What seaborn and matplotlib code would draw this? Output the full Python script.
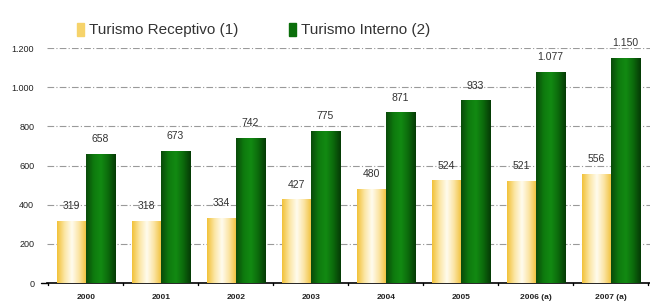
import matplotlib
matplotlib.use("Agg")
import matplotlib.pyplot as plt
import seaborn as sns
import pandas as pd
import numpy as np
from matplotlib.colors import LinearSegmentedColormap
from matplotlib.patches import Rectangle

years = ["2000", "2001", "2002", "2003", "2004", "2005", "2006 (a)", "2007 (a)"]
receptivo = [319, 318, 334, 427, 480, 524, 521, 556]
interno = [658, 673, 742, 775, 871, 933, 1077, 1150]
series_names = ["Turismo Receptivo (1)", "Turismo Interno (2)"]
yticks = [0, 200, 400, 600, 800, 1000, 1200]

df = pd.DataFrame({
    "Ano": years * 2,
    "Valor": receptivo + interno,
    "Serie": [series_names[0]] * len(years) + [series_names[1]] * len(years),
})

sns.set_theme(style="white")
plt.rcParams['font.family'] = ['Liberation Sans', 'DejaVu Sans']

fig = plt.figure(figsize=(6.5, 3.04), dpi=100)
ax = fig.add_axes([0.072, 0.069, 0.928, 0.773])

palette = {series_names[0]: "#F6D36A", series_names[1]: "#0B6E0B"}
sns.barplot(data=df, x="Ano", y="Valor", hue="Serie", palette=palette,
            width=0.78, ax=ax, legend=False, saturation=1)

# gradients
cmap_y = LinearSegmentedColormap.from_list("y", ["#F2C23A", "#FBE6A4", "#FFFCEF", "#FBE3A0", "#F0C038"])
cmap_g = LinearSegmentedColormap.from_list("g", ["#0A4A0A", "#0E7A0E", "#128A12", "#0C6A0C", "#053A05"])
grad = np.linspace(0, 1, 64).reshape(1, -1)
n = len(years)
for i, p in enumerate(ax.patches[:2 * n]):
    cm = cmap_y if i < n else cmap_g
    x0, y0 = p.get_x(), p.get_y()
    w, h = p.get_width(), p.get_height()
    p.set_facecolor("none")
    p.set_edgecolor("none")
    im = ax.imshow(grad, cmap=cm, aspect="auto", extent=[x0, x0 + w, y0, y0 + h],
                   zorder=3, interpolation="bilinear")
    im.set_clip_path(Rectangle((x0, y0), w, h, transform=ax.transData))

ax.set_ylim(0, 1200)
ax.set_xlim(-0.52, len(years) - 0.48)

def fmt(v):
    return f"{v:,}".replace(",", ".")

for i, p in enumerate(ax.patches[:2 * n]):
    v = receptivo[i] if i < n else interno[i - n]
    ax.text(p.get_x() + p.get_width() / 2, v + 50, fmt(v), ha="center", va="bottom",
            fontsize=7.5, color="#333333", clip_on=False, zorder=5)

# grid
for t in yticks[1:]:
    ax.axhline(t, color="#9a9a9a", lw=0.8, ls=(0, (6, 2, 1, 2)), zorder=1)

ax.set_yticks(yticks)
ax.set_yticklabels([fmt(t) for t in yticks], fontsize=6.5, color="#222222")
ax.set_xticks(range(n))
ax.set_xticklabels(years, fontsize=6, color="#222222", fontweight="bold")
ax.tick_params(axis="x", length=0, pad=8)
ax.tick_params(axis="y", length=0, pad=9)
ax.set_xlabel("")
ax.set_ylabel("")
for s in ["top", "right", "left"]:
    ax.spines[s].set_visible(False)
ax.spines["bottom"].set_color("black")
ax.spines["bottom"].set_linewidth(1.2)
# category boundary ticks
for b in np.arange(-0.5, n, 1.0):
    ax.plot([b, b], [0, -12], color="black", lw=1, clip_on=False, zorder=4)
ax.plot([-0.52 - 0.08, -0.52], [0, 0], color="black", lw=1, clip_on=False)

# legend
handles = [Rectangle((0, 0), 1, 1, color="#F6D36A"), Rectangle((0, 0), 1, 1, color="#0B6E0B")]
leg = fig.legend(handles, series_names, loc="upper left", bbox_to_anchor=(0.097, 0.97), ncol=2,
                 frameon=False, handlelength=0.5, handleheight=0.9,
                 handletextpad=0.3, columnspacing=3.3, prop={"size": 11})
for t in leg.get_texts():
    t.set_color("#333333")

fig.savefig("out.png", dpi=100)
